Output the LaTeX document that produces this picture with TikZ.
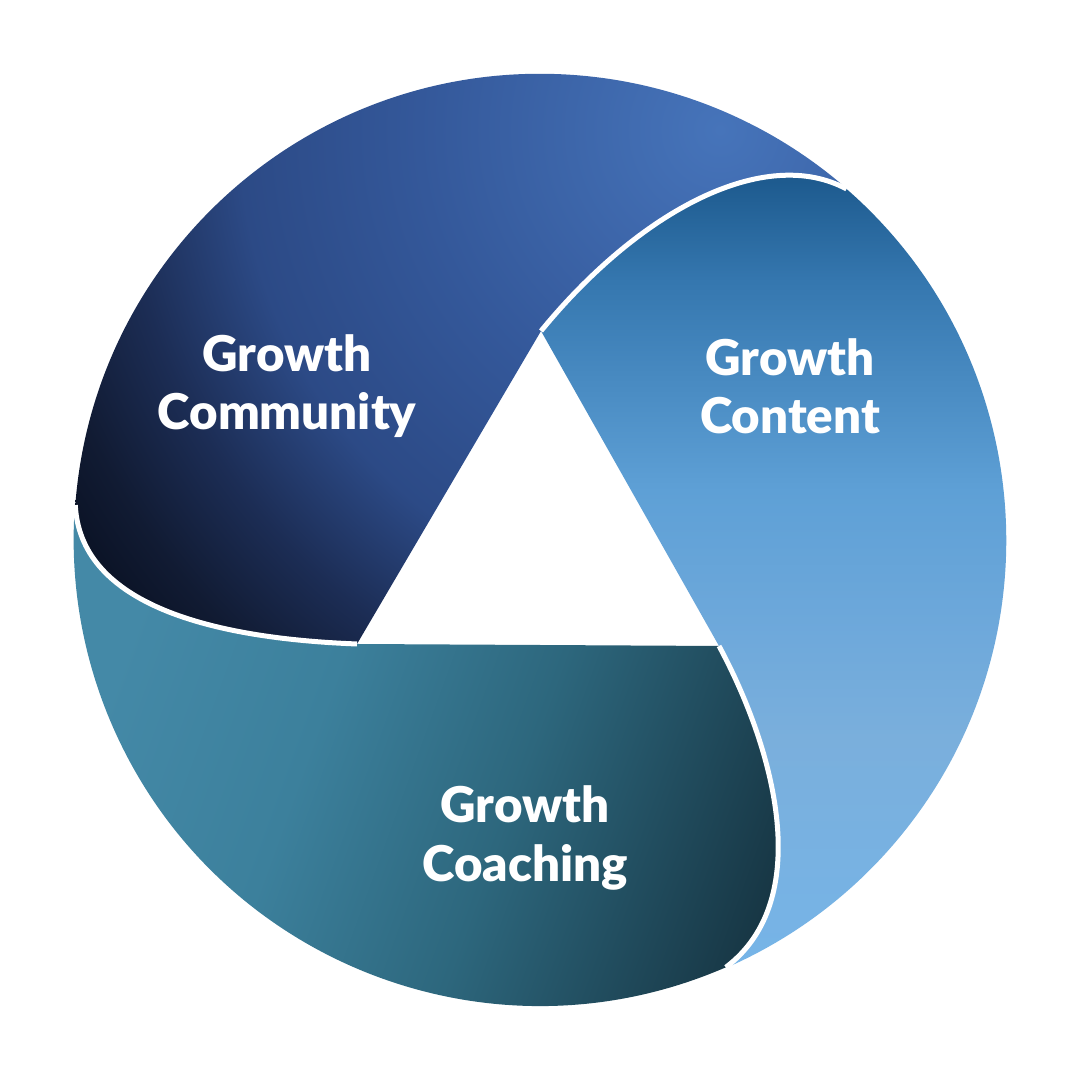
\documentclass[tikz,border=0pt]{standalone}
\usepackage{fontspec}
\setmainfont{Lato}[BoldFont={Lato Black}]
\begin{document}
\begin{tikzpicture}[x=0.01cm,y=0.01cm,
  seglabel/.style={text=white,font=\fontsize{14}{16.6}\selectfont\bfseries,align=center,inner sep=0pt},
  gapline/.style={draw=white,line width=0.05cm}]
\pgfdeclareverticalshading{contshade}{100bp}{%
  color(0bp)=(rgb,255:red,118;green,180;blue,231);
  color(25.5bp)=(rgb,255:red,118;green,180;blue,231);
  color(39bp)=(rgb,255:red,122;green,175;blue,220);
  color(45bp)=(rgb,255:red,111;green,169;blue,219);
  color(54bp)=(rgb,255:red,94;green,160;blue,214);
  color(66.7bp)=(rgb,255:red,53;green,119;blue,175);
  color(73bp)=(rgb,255:red,29;green,90;blue,142);
  color(100bp)=(rgb,255:red,29;green,90;blue,142)}
\pgfdeclareradialshading{commradial}{\pgfpoint{0bp}{0bp}}{%
  color(0bp)=(rgb,255:red,70;green,116;blue,186);
  color(9.9bp)=(rgb,255:red,52;green,88;blue,154);
  color(15.8bp)=(rgb,255:red,44;green,74;blue,134);
  color(19.7bp)=(rgb,255:red,28;green,45;blue,85);
  color(23bp)=(rgb,255:red,17;green,27;blue,51);
  color(25bp)=(rgb,255:red,11;green,19;blue,38);
  color(50bp)=(rgb,255:red,11;green,19;blue,38)}
\pgfdeclareverticalshading{coachshade}{100bp}{%
  color(0bp)=(rgb,255:red,68;green,137;blue,167);
  color(25bp)=(rgb,255:red,68;green,137;blue,167);
  color(40bp)=(rgb,255:red,60;green,128;blue,156);
  color(55bp)=(rgb,255:red,45;green,103;blue,125);
  color(75bp)=(rgb,255:red,23;green,54;blue,68);
  color(100bp)=(rgb,255:red,23;green,54;blue,68)}
\fill[white] (0,0) rectangle (1080,1080);
\useasboundingbox (0,0) rectangle (1080,1080);
\coordinate (O) at (540,540);
\coordinate (T) at (541,749);
\coordinate (BR) at (719,434);
\coordinate (BL) at (357,436);
\coordinate (E1) at (846.5,891.0);
\coordinate (E2) at (725.8,112.7);
\coordinate (E3) at (75.3,574.9);
% Growth Content
\shade[shading=contshade]
  (T) .. controls (640,870) and (765,935) .. (E1)
  arc[start angle=48.9,end angle=-66.5,radius=4.66cm]
  .. controls (815,180) and (775,330) .. (BR) -- cycle;
% Growth Coaching
\shade[shading=coachshade,shading angle=-110]
  (BR) .. controls (775,330) and (815,180) .. (E2)
  arc[start angle=-66.5,end angle=-184.3,radius=4.66cm]
  .. controls (80,480) and (200,442) .. (BL) -- cycle;
% Growth Community
\begin{scope}
\clip
  (BL) .. controls (200,442) and (80,480) .. (E3)
  arc[start angle=175.7,end angle=48.9,radius=4.66cm]
  .. controls (765,935) and (640,870) .. (T) -- cycle;
\shade[shading=commradial] (720,950) circle[radius=7.6cm];
\end{scope}
% white separating edges
\draw[gapline] (T) .. controls (640,870) and (765,935) .. (E1);
\draw[gapline] (BR) .. controls (775,330) and (815,180) .. (E2);
\draw[gapline] (BL) .. controls (200,442) and (80,480) .. (E3);
\node[seglabel] (lcomm) at (287,694) {Growth\\Community};
\node[seglabel] (lcont) at (790,694) {Growth\\Content};
\node[seglabel] (lcoach) at (525,242) {Growth\\Coaching};
\end{tikzpicture}
\end{document}
